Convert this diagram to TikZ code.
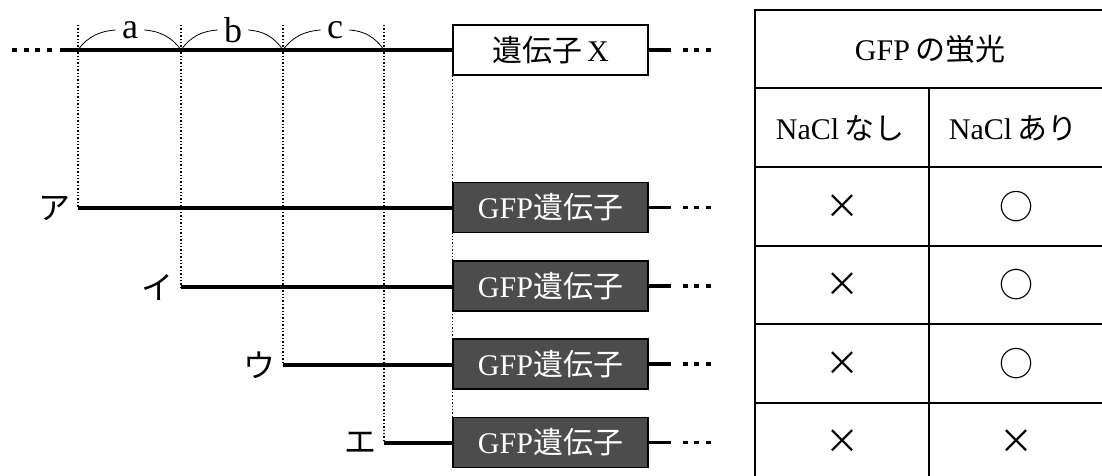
\documentclass[tikz,border=0pt]{standalone}
\usepackage{fontspec}
\setmainfont{Liberation Serif}
\newfontfamily\cjk{Noto Sans CJK JP}
\begin{document}
\begin{tikzpicture}[x=0.5pt,y=-0.5pt,
    dna/.style={line width=1.7pt},
    guide/.style={densely dotted,line width=0.7pt},
    ends/.style={line width=1.8pt,dash pattern=on 2.5pt off 3.3pt},
    genebox/.style={draw,line width=0.8pt,minimum width=97.5pt,minimum height=25pt,inner sep=0pt,font=\fontsize{15}{18}\selectfont},
    gfpbox/.style={genebox,fill=black!70,text=white},
    site/.style={inner sep=3pt,font=\fontsize{18}{21}\selectfont},
    strain/.style={font=\fontsize{16}{19}\selectfont},
    tab/.style={line width=0.8pt},
    cell/.style={font=\fontsize{15}{18}\selectfont},
    result/.style={font=\fontsize{17}{20}\selectfont\cjk}]
    \useasboundingbox (0,0) rectangle (1102,476);
    %\draw[ultra thin,gray!20] (0,0) grid[step=50] (1102,476);
    % gene boxes
    \node[genebox] (X) at (550.5,50) {{\cjk 遺伝子}\,X};
    \node[gfpbox] (g1) at (550.5,207.5) {GFP{\cjk 遺伝子}};
    \node[gfpbox] (g2) at (550.5,286) {GFP{\cjk 遺伝子}};
    \node[gfpbox] (g3) at (550.5,364) {GFP{\cjk 遺伝子}};
    \node[gfpbox] (g4) at (550.5,442.5) {GFP{\cjk 遺伝子}};
    % cut points on the upstream region
    \coordinate (ta) at (78,25);
    \coordinate (tb) at (181,25);
    \coordinate (tc) at (283,25);
    \coordinate (td) at (384,25);
    \coordinate (ma) at (78,50);
    \coordinate (mb) at (181,50);
    \coordinate (mc) at (283,50);
    \coordinate (md) at (384,50);
    \coordinate (pa) at (78,208);
    \coordinate (pb) at (181,287);
    \coordinate (pc) at (283,365);
    \coordinate (pd) at (384,443);
    % main strand
    \coordinate (l0) at (12,50);
    \coordinate (l1) at (54,50);
    \coordinate (l2) at (60,50);
    \draw[ends] (l0) -- (l1);
    \draw[dna] (l2) -- (X.west);
    \draw[dna] (X.east) -- ++(22,0) coordinate (xr);
    \draw[ends] ([xshift=6]xr) -- ++(30,0);
    % region labels
    \node[site] (la) at (130,30) {a};
    \node[site] (lb) at (233,30) {b};
    \node[site] (lc) at (335,30) {c};
    \draw (ma) .. controls +(10,-14) and +(-15,1) .. (la.west);
    \draw (la.east) .. controls +(15,1) and +(-9,-13) .. (mb);
    \draw (mb) .. controls +(10,-14) and +(-15,1) .. (lb.west);
    \draw (lb.east) .. controls +(15,1) and +(-9,-13) .. (mc);
    \draw (mc) .. controls +(10,-14) and +(-15,1) .. (lc.west);
    \draw (lc.east) .. controls +(15,1) and +(-9,-13) .. (md);
    % guides
    \draw[guide] (ta) -- (pa);
    \draw[guide] (tb) -- (pb);
    \draw[guide] (tc) -- (pc);
    \draw[guide] (td) -- (pd);
    \draw[guide] (X.south west) -- (g4.north west);
    % constructs
    \node[strain,left] (ka) at (pa) {\cjk ア};
    \node[strain,left] (ki) at (pb) {\cjk イ};
    \node[strain,left] (ku) at (pc) {\cjk ウ};
    \node[strain,left] (ke) at (pd) {\cjk エ};
    \draw[dna] (pa) -- (pa -| g1.west);
    \draw[dna] (pb) -- (pb -| g2.west);
    \draw[dna] (pc) -- (pc -| g3.west);
    \draw[dna] (pd) -- (pd -| g4.west);
    \draw[dna] (g1.east) -- ++(22,0) coordinate (r1);
    \draw[dna] (g2.east) -- ++(22,0) coordinate (r2);
    \draw[dna] (g3.east) -- ++(22,0) coordinate (r3);
    \draw[dna] (g4.east) -- ++(22,0) coordinate (r4);
    \draw[ends] ([xshift=6]r1) -- ++(30,0);
    \draw[ends] ([xshift=6]r2) -- ++(30,0);
    \draw[ends] ([xshift=6]r3) -- ++(30,0);
    \draw[ends] ([xshift=6]r4) -- ++(30,0);
    % table
    \draw[tab] (1110,10) -- (755,10) -- (755,490);
    \draw[tab] (755,88) -- (1110,88);
    \draw[tab] (755,167) -- (1110,167);
    \draw[tab] (755,246) -- (1110,246);
    \draw[tab] (755,324) -- (1110,324);
    \draw[tab] (755,403) -- (1110,403);
    \draw[tab] (929,88) -- (929,490);
    \node[cell] (hd) at (930,49) {GFP\,{\cjk の蛍光}};
    \node[cell] (n0) at (840,128) {NaCl\,{\cjk なし}};
    \node[cell] (n1) at (1013,128) {NaCl\,{\cjk あり}};
    \node[result] (a0) at (842,207) {×};
    \node[result] (a1) at (1016,207) {○};
    \node[result] (b0) at (842,285) {×};
    \node[result] (b1) at (1016,285) {○};
    \node[result] (c0) at (842,364) {×};
    \node[result] (c1) at (1016,364) {○};
    \node[result] (d0) at (842,442) {×};
    \node[result] (d1) at (1016,442) {×};
\end{tikzpicture}
\end{document}
